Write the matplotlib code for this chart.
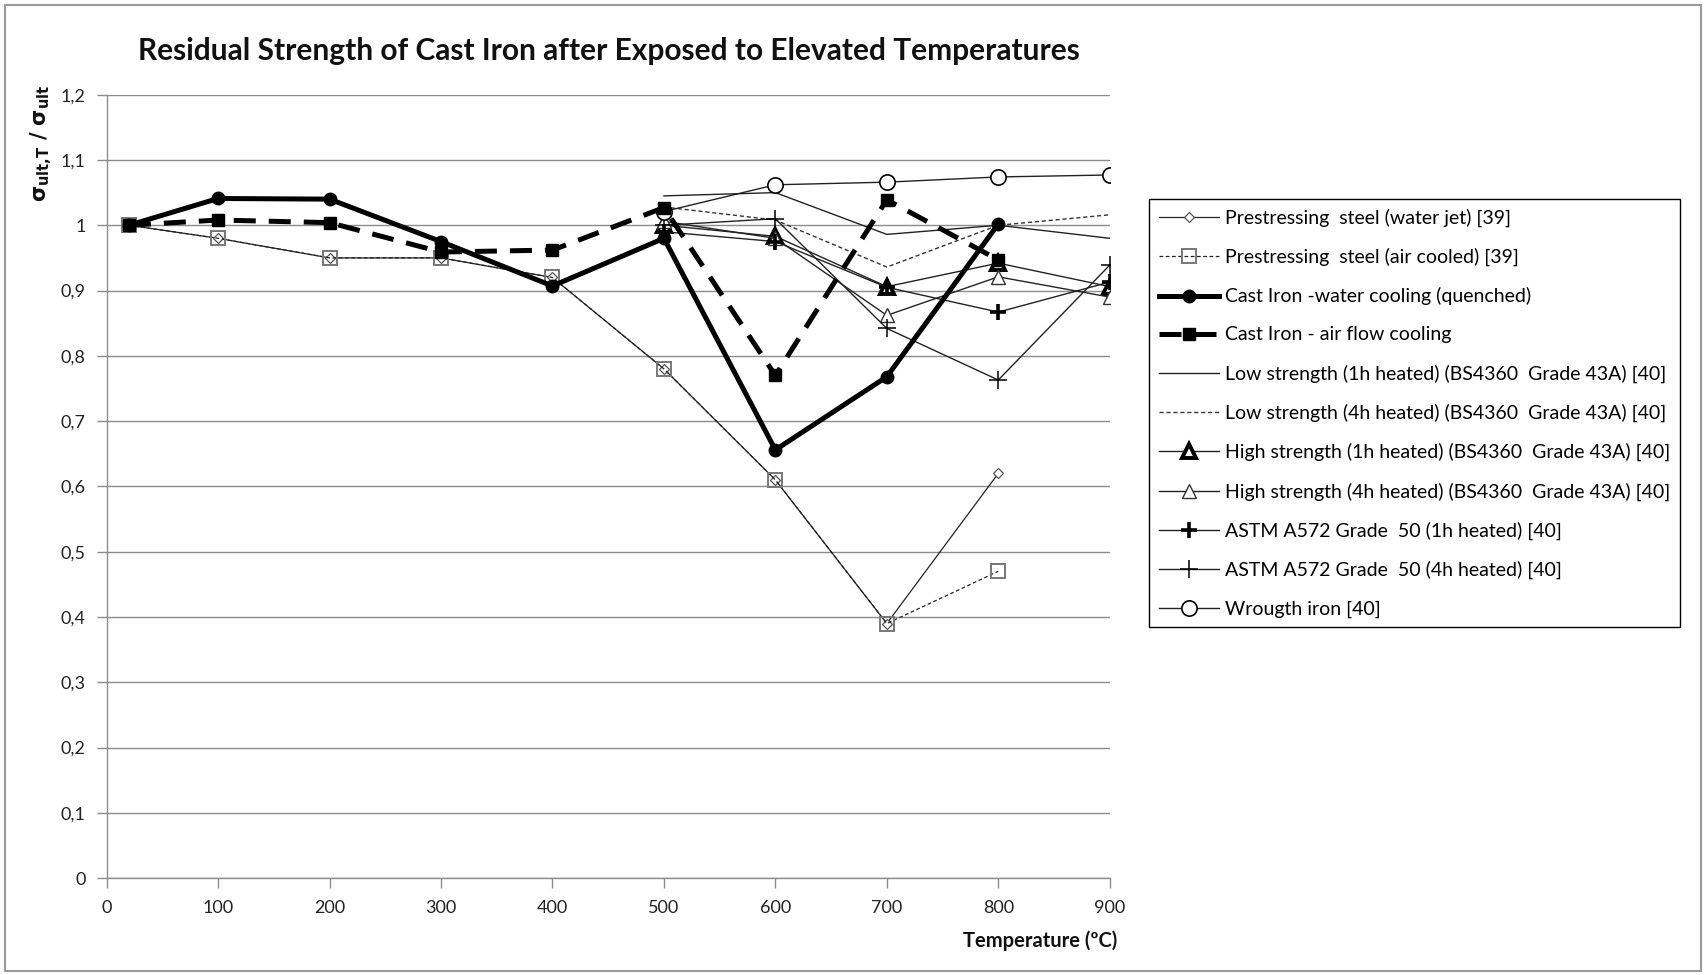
import matplotlib
matplotlib.use("Agg")
import matplotlib.pyplot as plt
from matplotlib.patches import Rectangle
from matplotlib.ticker import FuncFormatter, MultipleLocator

plt.rcParams['font.family'] = ['Lato', 'DejaVu Sans']
plt.rcParams['mathtext.fontset'] = 'dejavusans'

# temperatures (deg C) for each group of tests
temps_ps = [20, 100, 200, 300, 400, 500, 600, 700, 800]
temps_ci = [20, 100, 200, 300, 400, 500, 600, 700, 800]
temps_40 = [500, 600, 700, 800, 900]

# prestressing steel [39]
ps_water_jet = [1.0, 0.98, 0.95, 0.95, 0.92, 0.78, 0.61, 0.39, 0.62]
ps_air_cooled = [1.0, 0.98, 0.95, 0.95, 0.92, 0.78, 0.61, 0.39, 0.47]

# cast iron tests
ci_water = [1.0, 1.041, 1.040, 0.975, 0.907, 0.980, 0.656, 0.768, 1.002]
ci_air = [1.0, 1.008, 1.004, 0.959, 0.962, 1.027, 0.770, 1.039, 0.947]

# structural steels and wrought iron [40]
low_1h = [1.045, 1.050, 0.986, 1.0, 0.980]
low_4h = [1.028, 1.008, 0.936, 1.0, 1.016]
high_1h = [1.0, 0.983, 0.906, 0.942, 0.906]
high_4h = [1.006, 0.980, 0.862, 0.921, 0.890]
astm_1h = [0.990, 0.975, 0.905, 0.867, 0.913]
astm_4h = [1.0, 1.010, 0.842, 0.763, 0.939]
wrought = [1.021, 1.062, 1.066, 1.074, 1.077]

fig = plt.figure(figsize=(17.06, 9.75), dpi=100)
ax = fig.add_axes([0.0625, 0.0993, 0.588, 0.8036])

thin = '#222222'
ax.plot(temps_ps, ps_water_jet, color=thin, lw=0.9, marker='D', ms=5,
        mfc='white', mec='#555555', mew=0.9,
        label='Prestressing  steel (water jet) [39]')
ax.plot(temps_ps, ps_air_cooled, color=thin, lw=0.9, ls=(0, (3, 2)), marker='s', ms=10,
        mfc='none', mec='#777777', mew=1.4,
        label='Prestressing  steel (air cooled) [39]')
ax.plot(temps_ci, ci_water, color='black', lw=3.6, marker='o', ms=9,
        label='Cast Iron -water cooling (quenched)', zorder=5)
ax.plot(temps_ci, ci_air, color='black', lw=3.6, ls=(0, (4.4, 2.6)), marker='s', ms=9,
        label='Cast Iron - air flow cooling', zorder=5)
ax.plot(temps_40, low_1h, color=thin, lw=1.0,
        label='Low strength (1h heated) (BS4360  Grade 43A) [40]')
ax.plot(temps_40, low_4h, color='#333333', lw=1.0, ls=(0, (3, 2)),
        label='Low strength (4h heated) (BS4360  Grade 43A) [40]')
ax.plot(temps_40, high_1h, color=thin, lw=1.0, marker='^', ms=10,
        mfc='white', mec='black', mew=2.8,
        label='High strength (1h heated) (BS4360  Grade 43A) [40]')
ax.plot(temps_40, high_4h, color=thin, lw=1.0, marker='^', ms=10,
        mfc='white', mec='#333333', mew=1.0,
        label='High strength (4h heated) (BS4360  Grade 43A) [40]')
ax.plot(temps_40, astm_1h, color=thin, lw=1.0, marker='+', ms=12, mew=2.6,
        mec='black', label='ASTM A572 Grade  50 (1h heated) [40]')
ax.plot(temps_40, astm_4h, color=thin, lw=1.0, marker='+', ms=13, mew=1.1,
        mec='black', label='ASTM A572 Grade  50 (4h heated) [40]')
ax.plot(temps_40, wrought, color=thin, lw=1.0, marker='o', ms=11,
        mfc='white', mec='black', mew=1.2, label='Wrougth iron [40]')

ax.set_xlim(0, 900)
ax.set_ylim(0, 1.2)
ax.xaxis.set_major_locator(MultipleLocator(100))
ax.yaxis.set_major_locator(MultipleLocator(0.1))


def comma_fmt(v, pos):
    s = f'{v:.1f}'.rstrip('0').rstrip('.')
    return s.replace('.', ',')


ax.yaxis.set_major_formatter(FuncFormatter(comma_fmt))
ax.grid(axis='y', color='#8c8c8c', lw=1.0)
ax.set_axisbelow(True)
for side in ['top', 'right']:
    ax.spines[side].set_visible(False)
for side in ['left', 'bottom']:
    ax.spines[side].set_color('#8c8c8c')
    ax.spines[side].set_linewidth(1.0)
ax.tick_params(axis='both', colors='#8c8c8c', length=7, width=1.0,
               labelcolor='#222222', labelsize=13)
ax.tick_params(axis='x', pad=9)
ax.tick_params(axis='y', pad=8)

fig.text(0.357, 0.948, 'Residual Strength of Cast Iron after Exposed to Elevated Temperatures',
         ha='center', va='center', fontsize=21.5, fontweight='bold', color='#111111')
fig.text(0.655, 0.035, 'Temperature (ºC)', ha='right', va='center',
         fontsize=14.5, fontweight='bold', color='#111111')
fig.text(0.024, 0.853, r'$\mathbf{\sigma_{ult,\!T}\ /\ \sigma_{ult}}$', rotation=90,
         ha='center', va='center', fontsize=15, color='#111111')

leg = fig.legend(loc='upper left', bbox_to_anchor=(0.668, 0.806), fontsize=14,
                 frameon=True, fancybox=False, edgecolor='black', framealpha=1,
                 handlelength=3.1, labelspacing=1.08, borderpad=0.5,
                 handletextpad=0.3)
leg.get_frame().set_linewidth(1.0)

fig.patches.append(Rectangle((0.003, 0.004), 0.994, 0.991, transform=fig.transFigure,
                             fill=False, edgecolor='#9a9a9a', lw=1.5))

fig.savefig('out.png', dpi=100)
